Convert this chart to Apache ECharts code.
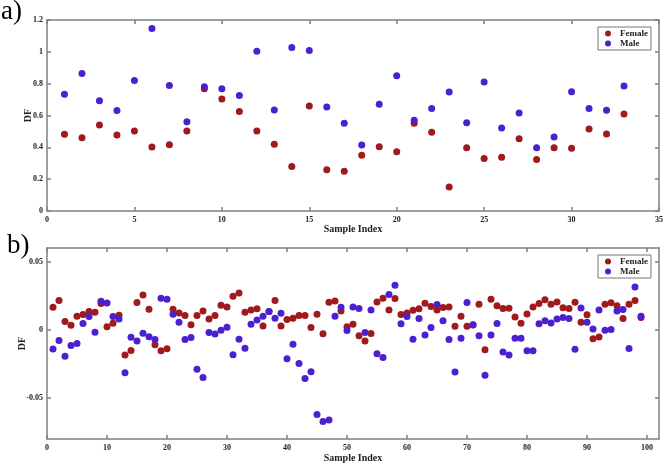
<!DOCTYPE html>
<html>
<head>
<meta charset="utf-8">
<script src="https://cdn.jsdelivr.net/npm/echarts@6/dist/echarts.min.js"></script>
<style>
  html, body { margin: 0; padding: 0; background: #fff; }
  #chart { width: 666px; height: 467px; }
</style>
</head>
<body>
<div id="chart"></div>
<script>
  // panel a) : 33 samples
  const femaleA = [0.482, 0.46, 0.54, 0.478, 0.503, 0.402, 0.416, 0.503, 0.768, 0.703, 0.625,
    0.503, 0.42, 0.28, 0.66, 0.259, 0.25, 0.351, 0.404, 0.372, 0.551, 0.495,
    0.151, 0.397, 0.33, 0.337, 0.454, 0.324, 0.397, 0.395, 0.515, 0.484, 0.61];
  const maleA = [0.734, 0.864, 0.692, 0.631, 0.82, 1.146, 0.789, 0.56, 0.78, 0.768, 0.726,
    1.003, 0.635, 1.028, 1.008, 0.654, 0.551, 0.414, 0.671, 0.85, 0.57, 0.644,
    0.747, 0.555, 0.81, 0.522, 0.615, 0.397, 0.465, 0.749, 0.644, 0.633, 0.785];

  // panel b) : 99 samples
  const femaleB = [0.0166, 0.0215, 0.0061, 0.0034, 0.0100, 0.0112, 0.0134, 0.0129, 0.0193, 0.0022,
    0.0049, 0.0107, -0.0185, -0.0151, 0.0200, 0.0256, 0.0151, -0.0110, -0.0154, -0.0139,
    0.0151, 0.0124, 0.0105, 0.0037, 0.0105, 0.0139, 0.0080, 0.0105, 0.0180, 0.0168,
    0.0246, 0.0271, 0.0129, 0.0146, 0.0154, 0.0029, 0.0134, 0.0215, 0.0029, 0.0076,
    0.0085, 0.0105, 0.0105, 0.0017, 0.0115, -0.0029, 0.0203, 0.0212, 0.0139, 0.0022,
    0.0041, -0.0044, -0.0081, -0.0027, 0.0205, 0.0232, 0.0146, 0.0229, 0.0112, 0.0124,
    0.0144, 0.0154, 0.0195, 0.0171, 0.0146, 0.0163, 0.0168, 0.0027, 0.0100, 0.0027,
    0.0035, 0.0188, -0.0146, 0.0224, 0.0176, 0.0156, 0.0159, 0.0095, 0.0049, 0.0117,
    0.0168, 0.0193, 0.0220, 0.0188, 0.0205, 0.0162, 0.0157, 0.0203, 0.0056, 0.0111,
    -0.0066, -0.0053, 0.0188, 0.0198, 0.0176, 0.0083, 0.0188, 0.0215, 0.0090];
  const maleB = [-0.0140, -0.0078, -0.0193, -0.0115, -0.0100, 0.0046, 0.0097, -0.0018, 0.0210, 0.0197,
    0.0097, 0.0080, -0.0315, -0.0054, -0.0081, -0.0024, -0.0050, -0.0071, 0.0232, 0.0225,
    0.0115, 0.0056, -0.0071, -0.0056, -0.0288, -0.0350, -0.0020, -0.0031, -0.0002, 0.0020,
    -0.0183, -0.0068, -0.0135, 0.0041, 0.0073, 0.0100, 0.0134, 0.0085, 0.0122, -0.0212,
    -0.0105, -0.0246, -0.0356, -0.0307, -0.0621, -0.0672, -0.0660, 0.0100, 0.0166, -0.0005,
    0.0168, 0.0156, -0.0020, 0.0146, -0.0176, -0.0203, 0.0259, 0.0327, 0.0044, 0.0098,
    -0.0068, 0.0083, -0.0037, 0.0017, 0.0185, 0.0066, -0.0071, -0.0308, -0.0061, 0.0200,
    0.0037, -0.0044, -0.0333, -0.0037, 0.0046, -0.0162, -0.0185, -0.0061, -0.0061, -0.0154,
    -0.0154, 0.0044, 0.0067, 0.0050, 0.0080, 0.0090, 0.0083, -0.0142, 0.0161, 0.0056,
    0.0006, 0.0145, -0.0003, 0.0002, 0.0139, 0.0149, -0.0137, 0.0315, 0.0099];

  const xTicksB = [0, 10, 20, 30, 40, 50, 60, 70, 80, 90, 100];
  const yTicksB = [-0.05, 0, 0.05];

  const FEMALE = '#a0191b';
  const MALE = '#4c20d0';
  const FONT = 'Liberation Serif';
  const frame = { color: '#808080', width: 1.5 };

  let chart = echarts.init(document.getElementById('chart'));

  const lbl = { color: '#222', fontFamily: FONT, fontWeight: 'bold', fontSize: 8 };
  const nameStyle = { color: '#222', fontFamily: FONT, fontWeight: 'bold', fontSize: 10 };

  // an axis used only as a frame side with inward ticks
  function sideAxis(grid, pos, min, max, extra) {
    return Object.assign({
      gridIndex: grid,
      type: 'value',
      position: pos,
      min: min,
      max: max,
      axisLine: { show: true, onZero: false, lineStyle: frame },
      axisTick: { show: true, inside: true, length: 4, lineStyle: frame },
      axisLabel: { show: false },
      splitLine: { show: false }
    }, extra || {});
  }

  function pairs(arr) {
    return arr.map((v, i) => [i + 1, v]);
  }

  function legendAt(top) {
    return {
      data: ['Female', 'Male'],
      orient: 'vertical',
      left: 598,
      top: top,
      icon: 'circle',
      itemWidth: 14,
      itemHeight: 6,
      itemGap: 1,
      padding: [2, 3, 2, 7],
      borderColor: '#777',
      borderWidth: 1,
      backgroundColor: '#fff',
      textStyle: { color: '#222', fontFamily: FONT, fontWeight: 'bold', fontSize: 9 }
    };
  }

  let option = {
    animation: false,
    backgroundColor: '#fff',
    graphic: [
      { type: 'text', left: 1, top: -2, style: { text: 'a)', fontFamily: FONT, fontSize: 27, fill: '#000' } },
      { type: 'text', left: 7, top: 232, style: { text: 'b)', fontFamily: FONT, fontSize: 27, fill: '#000' } }
    ],
    grid: [
      { left: 47, right: 7, top: 20, height: 191 },
      { left: 47, right: 7, top: 248, height: 191 }
    ],
    legend: [legendAt(27), legendAt(255)],
    xAxis: [
      sideAxis(0, 'bottom', 0, 35, {
        interval: 5,
        axisLabel: Object.assign({ margin: 5 }, lbl),
        name: 'Sample Index', nameLocation: 'middle', nameGap: 13, nameMoveOverlap: false,
        nameTextStyle: nameStyle
      }),
      sideAxis(0, 'top', 0, 35, { interval: 5 }),
      sideAxis(1, 'bottom', 0, 102, {
        axisTick: { show: true, inside: true, length: 4, lineStyle: frame, customValues: xTicksB },
        axisLabel: Object.assign({ margin: 5, customValues: xTicksB }, lbl),
        name: 'Sample Index', nameLocation: 'middle', nameGap: 14, nameMoveOverlap: false,
        nameTextStyle: nameStyle
      }),
      sideAxis(1, 'top', 0, 102, {
        axisTick: { show: true, inside: true, length: 4, lineStyle: frame, customValues: xTicksB }
      })
    ],
    yAxis: [
      sideAxis(0, 'left', 0, 1.2, {
        interval: 0.2,
        axisLabel: Object.assign({ margin: 4 }, lbl),
        name: 'DF', nameLocation: 'middle', nameGap: 14, nameMoveOverlap: false,
        nameTextStyle: nameStyle
      }),
      sideAxis(0, 'right', 0, 1.2, { interval: 0.2 }),
      sideAxis(1, 'left', -0.08, 0.06, {
        axisTick: { show: true, inside: true, length: 4, lineStyle: frame, customValues: yTicksB },
        axisLabel: Object.assign({ margin: 4, customValues: yTicksB }, lbl),
        name: 'DF', nameLocation: 'middle', nameGap: 20, nameMoveOverlap: false,
        nameTextStyle: nameStyle
      }),
      sideAxis(1, 'right', -0.08, 0.06, {
        axisTick: { show: true, inside: true, length: 4, lineStyle: frame, customValues: yTicksB }
      })
    ],
    series: [
      { name: 'Female', type: 'scatter', xAxisIndex: 0, yAxisIndex: 0, data: pairs(femaleA),
        symbolSize: 7, itemStyle: { color: FEMALE, opacity: 1 } },
      { name: 'Male', type: 'scatter', xAxisIndex: 0, yAxisIndex: 0, data: pairs(maleA),
        symbolSize: 7, itemStyle: { color: MALE, opacity: 1 } },
      { name: 'Female', type: 'scatter', xAxisIndex: 2, yAxisIndex: 2, data: pairs(femaleB),
        symbolSize: 7, itemStyle: { color: FEMALE, opacity: 1 } },
      { name: 'Male', type: 'scatter', xAxisIndex: 2, yAxisIndex: 2, data: pairs(maleB),
        symbolSize: 7, itemStyle: { color: MALE, opacity: 1 } }
    ]
  };
  chart.setOption(option);
</script>
</body>
</html>
